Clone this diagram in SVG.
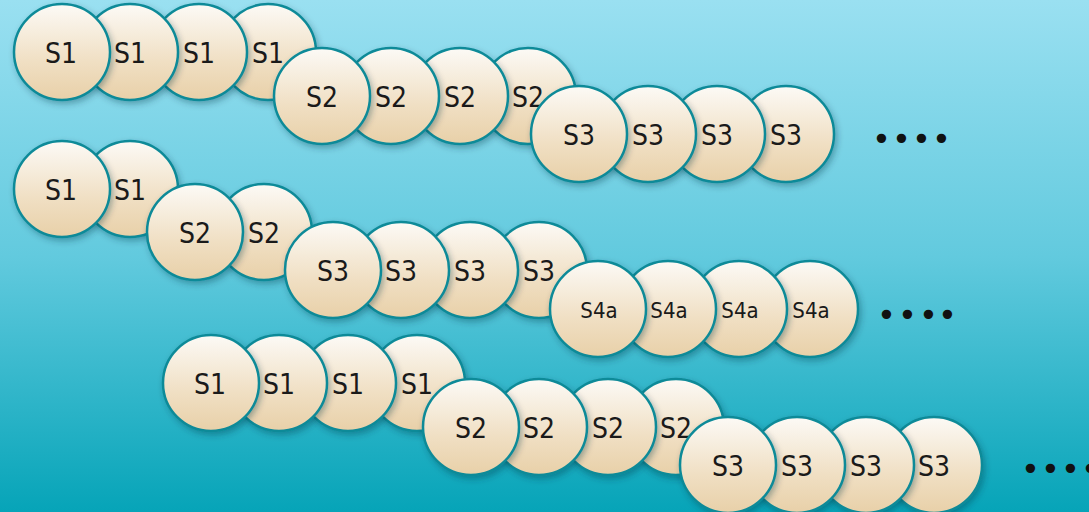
<svg xmlns="http://www.w3.org/2000/svg" width="1089" height="512" viewBox="0 0 1089 512">
<defs>
<linearGradient id="bg" x1="0" y1="0" x2="0" y2="1">
<stop offset="0" stop-color="#9ae0f1"/>
<stop offset="0.5" stop-color="#62cade"/>
<stop offset="1" stop-color="#06a4b8"/>
</linearGradient>
<linearGradient id="ball" x1="0" y1="0" x2="0" y2="1">
<stop offset="0" stop-color="#fcfaf6"/>
<stop offset="0.6" stop-color="#f0dfc3"/>
<stop offset="1" stop-color="#e8d0a8"/>
</linearGradient>
<filter id="sh" x="-30%" y="-30%" width="160%" height="160%">
<feDropShadow dx="2" dy="3" stdDeviation="3" flood-color="#003040" flood-opacity="0.35"/>
</filter>
</defs>
<style>
.b{fill:url(#ball);stroke:#0e8a98;stroke-width:2.5;filter:url(#sh)}
.t{font-family:"Liberation Sans Narrow","DejaVu Sans Condensed","Liberation Sans",sans-serif;font-size:28px;fill:#1a1a1a;text-anchor:middle}
.s{font-size:22px}
.d{font-family:"DejaVu Sans","Liberation Sans",sans-serif;font-size:32px;fill:#111}
</style>
<rect width="1089" height="512" fill="url(#bg)"/>
<g id="connectors"/>

<!-- Row 1 S1 -->
<g id="r1-s1-4"><circle class="b" cx="268" cy="52" r="48"/><text class="t" x="268" y="63">S1</text></g>
<g id="r1-s1-3"><circle class="b" cx="199" cy="52" r="48"/><text class="t" x="199" y="63">S1</text></g>
<g id="r1-s1-2"><circle class="b" cx="130" cy="52" r="48"/><text class="t" x="130" y="63">S1</text></g>
<g id="r1-s1-1"><circle class="b" cx="62" cy="52" r="48"/><text class="t" x="61" y="63">S1</text></g>
<!-- Row 1 S2 -->
<g id="r1-s2-4"><circle class="b" cx="528" cy="96" r="48"/><text class="t" x="528" y="107">S2</text></g>
<g id="r1-s2-3"><circle class="b" cx="460" cy="96" r="48"/><text class="t" x="460" y="107">S2</text></g>
<g id="r1-s2-2"><circle class="b" cx="391" cy="96" r="48"/><text class="t" x="391" y="107">S2</text></g>
<g id="r1-s2-1"><circle class="b" cx="322" cy="96" r="48"/><text class="t" x="322" y="107">S2</text></g>
<!-- Row 1 S3 -->
<g id="r1-s3-4"><circle class="b" cx="786" cy="134" r="48"/><text class="t" x="786" y="145">S3</text></g>
<g id="r1-s3-3"><circle class="b" cx="717" cy="134" r="48"/><text class="t" x="717" y="145">S3</text></g>
<g id="r1-s3-2"><circle class="b" cx="648" cy="134" r="48"/><text class="t" x="648" y="145">S3</text></g>
<g id="r1-s3-1"><circle class="b" cx="579" cy="134" r="48"/><text class="t" x="579" y="145">S3</text></g>
<g id="r1-dots"><text class="d" x="872 892 912 932" y="150">••••</text></g>

<!-- Row 2 S1 -->
<g id="r2-s1-2"><circle class="b" cx="130" cy="189" r="48"/><text class="t" x="130" y="200">S1</text></g>
<g id="r2-s1-1"><circle class="b" cx="62" cy="189" r="48"/><text class="t" x="61" y="200">S1</text></g>
<!-- Row 2 S2 -->
<g id="r2-s2-2"><circle class="b" cx="264" cy="232" r="48"/><text class="t" x="264" y="243">S2</text></g>
<g id="r2-s2-1"><circle class="b" cx="195" cy="232" r="48"/><text class="t" x="195" y="243">S2</text></g>
<!-- Row 2 S3 -->
<g id="r2-s3-4"><circle class="b" cx="539" cy="270" r="48"/><text class="t" x="539" y="281">S3</text></g>
<g id="r2-s3-3"><circle class="b" cx="470" cy="270" r="48"/><text class="t" x="470" y="281">S3</text></g>
<g id="r2-s3-2"><circle class="b" cx="401" cy="270" r="48"/><text class="t" x="401" y="281">S3</text></g>
<g id="r2-s3-1"><circle class="b" cx="333" cy="270" r="48"/><text class="t" x="333" y="281">S3</text></g>
<!-- Row 2 S4a -->
<g id="r2-s4a-4"><circle class="b" cx="810" cy="309" r="48"/><text class="t s" x="811" y="318">S4a</text></g>
<g id="r2-s4a-3"><circle class="b" cx="739" cy="309" r="48"/><text class="t s" x="740" y="318">S4a</text></g>
<g id="r2-s4a-2"><circle class="b" cx="668" cy="309" r="48"/><text class="t s" x="669" y="318">S4a</text></g>
<g id="r2-s4a-1"><circle class="b" cx="598" cy="309" r="48"/><text class="t s" x="599" y="318">S4a</text></g>
<g id="r2-dots"><text class="d" x="877 898 919 938" y="326">••••</text></g>

<!-- Row 3 S1 -->
<g id="r3-s1-4"><circle class="b" cx="417" cy="383" r="48"/><text class="t" x="417" y="394">S1</text></g>
<g id="r3-s1-3"><circle class="b" cx="348" cy="383" r="48"/><text class="t" x="348" y="394">S1</text></g>
<g id="r3-s1-2"><circle class="b" cx="279" cy="383" r="48"/><text class="t" x="279" y="394">S1</text></g>
<g id="r3-s1-1"><circle class="b" cx="211" cy="383" r="48"/><text class="t" x="210" y="394">S1</text></g>
<!-- Row 3 S2 -->
<g id="r3-s2-4"><circle class="b" cx="676" cy="427" r="48"/><text class="t" x="676" y="438">S2</text></g>
<g id="r3-s2-3"><circle class="b" cx="608" cy="427" r="48"/><text class="t" x="608" y="438">S2</text></g>
<g id="r3-s2-2"><circle class="b" cx="539" cy="427" r="48"/><text class="t" x="539" y="438">S2</text></g>
<g id="r3-s2-1"><circle class="b" cx="471" cy="427" r="48"/><text class="t" x="471" y="438">S2</text></g>
<!-- Row 3 S3 -->
<g id="r3-s3-4"><circle class="b" cx="934" cy="465" r="48"/><text class="t" x="934" y="476">S3</text></g>
<g id="r3-s3-3"><circle class="b" cx="866" cy="465" r="48"/><text class="t" x="866" y="476">S3</text></g>
<g id="r3-s3-2"><circle class="b" cx="797" cy="465" r="48"/><text class="t" x="797" y="476">S3</text></g>
<g id="r3-s3-1"><circle class="b" cx="728" cy="465" r="48"/><text class="t" x="728" y="476">S3</text></g>
<g id="r3-dots"><text class="d" x="1021 1041 1061 1081" y="480">••••</text></g>
</svg>
